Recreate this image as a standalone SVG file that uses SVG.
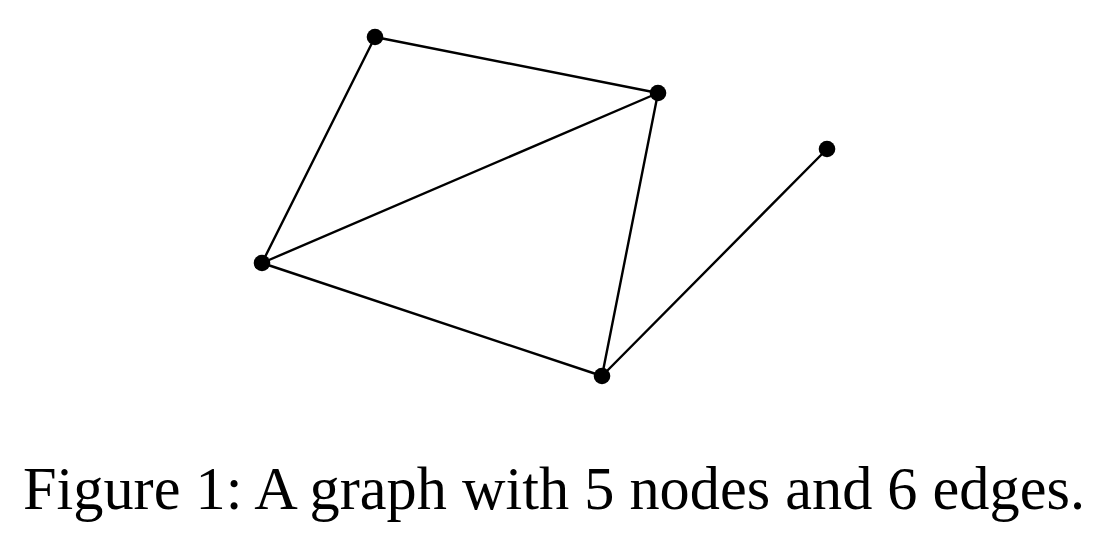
<svg xmlns="http://www.w3.org/2000/svg" width="1106" height="535" viewBox="0 0 1106 535">
<style>
.edge{stroke:#000;stroke-width:2.4;fill:none;stroke-linecap:round}
.node{fill:#000}
.caption{font-family:"Liberation Serif","DejaVu Serif",serif;font-size:61px;fill:#000}
</style>
<rect width="1106" height="535" fill="#fff"/>
<g id="edges">
<line class="edge" x1="375" y1="37" x2="658" y2="93"/>
<line class="edge" x1="375" y1="37" x2="262" y2="263"/>
<line class="edge" x1="658" y1="93" x2="262" y2="263"/>
<line class="edge" x1="658" y1="93" x2="602" y2="376"/>
<line class="edge" x1="262" y1="263" x2="602" y2="376"/>
<line class="edge" x1="602" y1="376" x2="827" y2="149"/>
</g>
<g id="n1"><circle class="node" cx="375" cy="37" r="8.3"/></g>
<g id="n2"><circle class="node" cx="658" cy="93" r="8.3"/></g>
<g id="n3"><circle class="node" cx="262" cy="263" r="8.3"/></g>
<g id="n4"><circle class="node" cx="602" cy="376" r="8.3"/></g>
<g id="n5"><circle class="node" cx="827" cy="149" r="8.3"/></g>
<text class="caption" x="23" y="509" textLength="1062" lengthAdjust="spacingAndGlyphs">Figure 1: A graph with 5 nodes and 6 edges.</text>
</svg>
